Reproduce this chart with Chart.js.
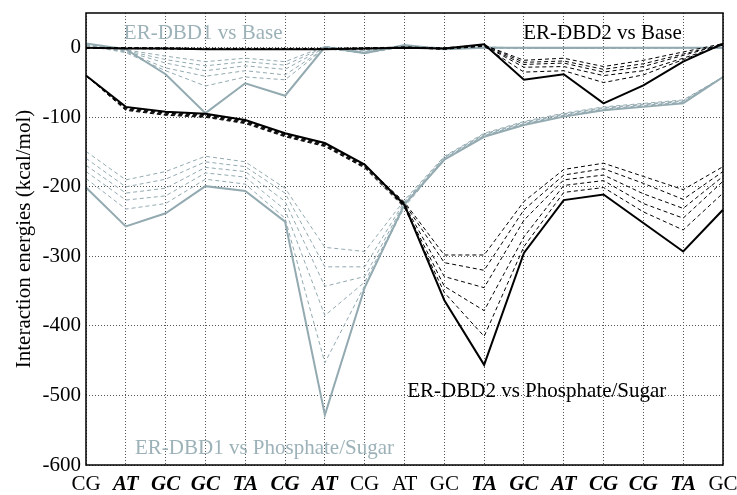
<!DOCTYPE html>
<html>
<head>
<meta charset="utf-8">
<script src="https://cdn.jsdelivr.net/npm/chart.js@4.4.0/dist/chart.umd.min.js"></script>
<style>
  html, body { margin: 0; padding: 0; background: #fff; }
</style>
</head>
<body>
<canvas id="chart" width="737" height="495"></canvas>
<script>
// base pairs along the DNA, bold italic ones are in contact with a DBD
const basePairs = ["CG", "AT", "GC", "GC", "TA", "CG", "AT", "CG", "AT", "GC", "TA", "GC", "AT", "CG", "CG", "TA", "GC"];
const contactPairs = [1, 2, 3, 4, 5, 6, 10, 11, 12, 13, 14, 15];

// ER-DBD1 vs Base (grey)
const dbd1BaseFinal = [6, -2, -38, -94, -51, -69, 1, -8, 4, -2, 0, 0, 0, 0, 0, 0, 0];
const dbd1BaseSteps = [
  [5, -3, -12, -20, -15, -20, 2, -4, 3, 0, 1, 0, 0, 0, 0, 0, 0],
  [5, -4, -17, -26, -20, -25, 1, -5, 3, -1, 1, 0, 0, 0, 0, 0, 0],
  [4, -5, -22, -33, -26, -31, 0, -6, 2, -1, 0, 0, -1, 0, 0, 0, 0],
  [4, -6, -29, -41, -33, -39, -1, -7, 2, -1, 0, -1, -1, -1, 0, 0, 0],
  [3, -7, -33, -55, -42, -46, -1, -8, 1, -2, 0, -1, -1, -1, -1, 0, 0]
];

// ER-DBD2 vs Base (black)
const dbd2BaseFinal = [0, -1, -1, -2, -2, -2, -2, -1, 0, -1, 5, -46, -38, -80, -54, -20, 6];
const dbd2BaseSteps = [
  [0, 0, 0, -1, -1, -1, -1, 0, 1, 0, 4, -18, -15, -27, -18, -6, 6],
  [0, 0, -1, -1, -1, -1, -1, -1, 1, -1, 4, -21, -19, -31, -23, -9, 5],
  [0, -1, -1, -1, -1, -2, -1, -1, 0, -1, 3, -24, -22, -35, -27, -11, 5],
  [-1, -1, -1, -2, -2, -2, -2, -1, 0, -2, 3, -28, -27, -40, -33, -15, 4],
  [-1, -1, -2, -2, -2, -2, -2, -2, 0, -2, 2, -35, -33, -50, -39, -17, 4]
];

// ER-DBD1 vs Phosphate/Sugar (grey)
const dbd1PhosFinal = [-201, -257, -238, -199, -206, -250, -528, -345, -225, -161, -128, -111, -99, -90, -85, -80, -42];
const dbd1PhosSteps = [
  [-149, -190, -178, -156, -164, -202, -287, -293, -219, -156, -123, -106, -94, -85, -80, -75, -42],
  [-159, -200, -189, -164, -171, -209, -315, -315, -221, -157, -124, -107, -95, -86, -81, -76, -42],
  [-169, -209, -202, -172, -178, -221, -343, -329, -223, -158, -125, -108, -96, -87, -82, -77, -42],
  [-178, -219, -213, -180, -186, -233, -385, -337, -226, -159, -126, -109, -97, -88, -83, -78, -42],
  [-188, -232, -224, -189, -196, -245, -453, -342, -229, -160, -127, -110, -98, -89, -84, -79, -42]
];

// ER-DBD2 vs Phosphate/Sugar (black)
const dbd2PhosFinal = [-40, -85, -92, -95, -104, -123, -137, -168, -226, -363, -456, -295, -219, -211, -252, -293, -233];
const dbd2PhosSteps = [
  [-40, -86, -93, -96, -105, -124, -138, -169, -222, -298, -298, -221, -175, -166, -185, -204, -171],
  [-40, -87, -94, -97, -106, -125, -139, -170, -224, -309, -320, -233, -183, -174, -195, -218, -178],
  [-40, -88, -95, -98, -107, -126, -140, -171, -226, -329, -345, -248, -190, -183, -210, -231, -185],
  [-40, -89, -96, -99, -108, -127, -141, -172, -228, -343, -378, -272, -198, -191, -224, -245, -192],
  [-40, -90, -97, -100, -109, -128, -142, -173, -230, -352, -415, -286, -208, -201, -236, -262, -209]
];

const GREY = "#93aab1";
const GREY_TEXT = "#9cb2b8";
const FONT = '"Liberation Serif", "Times New Roman", serif';

// text labels placed in data coordinates (x = base-pair index, y = kcal/mol)
const annotations = [
  { text: "ER-DBD1 vs Base", x: 0.95, y: 21, color: GREY_TEXT },
  { text: "ER-DBD2 vs Base", x: 10.98, y: 21, color: "#000" },
  { text: "ER-DBD2 vs Phosphate/Sugar", x: 8.07, y: -494, color: "#000" },
  { text: "ER-DBD1 vs Phosphate/Sugar", x: 1.23, y: -576, color: GREY_TEXT }
];

function solidLine(data, color) {
  return { data: data, borderColor: color, borderWidth: 2, pointRadius: 0, fill: false, tension: 0 };
}
function dashedLine(data, color) {
  return { data: data, borderColor: color, borderWidth: 1, borderDash: [4, 3], pointRadius: 0, fill: false, tension: 0 };
}

const datasets = [
  solidLine(dbd2PhosFinal, "#000"),
  solidLine(dbd2BaseFinal, "#000"),
  ...dbd2PhosSteps.map((d) => dashedLine(d, "#000")),
  ...dbd2BaseSteps.map((d) => dashedLine(d, "#000")),
  solidLine(dbd1PhosFinal, GREY),
  solidLine(dbd1BaseFinal, GREY),
  ...dbd1PhosSteps.map((d) => dashedLine(d, GREY)),
  ...dbd1BaseSteps.map((d) => dashedLine(d, GREY))
];

const labelPlugin = {
  id: "labelPlugin",
  afterDraw(chart) {
    const { ctx, chartArea, scales } = chart;
    ctx.save();
    // frame around the plot
    ctx.strokeStyle = "#000";
    ctx.lineWidth = 1.5;
    ctx.strokeRect(chartArea.left, chartArea.top, chartArea.right - chartArea.left, chartArea.bottom - chartArea.top);
    ctx.font = "21px " + FONT;
    ctx.textAlign = "left";
    ctx.textBaseline = "middle";
    annotations.forEach((a) => {
      ctx.fillStyle = a.color;
      ctx.fillText(a.text, scales.x.getPixelForValue(a.x), scales.y.getPixelForValue(a.y));
    });
    ctx.restore();
  }
};

new Chart(document.getElementById("chart"), {
  type: "line",
  data: { labels: basePairs, datasets: datasets },
  options: {
    responsive: false,
    animation: false,
    layout: { padding: { top: 13, right: 14, left: 0, bottom: 0 } },
    plugins: { legend: { display: false }, tooltip: { enabled: false } },
    scales: {
      x: {
        offset: false,
        grid: { offset: false, color: "#555", lineWidth: 1, drawTicks: false },
        border: { display: false, dash: [1, 2] },
        ticks: {
          color: "#000",
          padding: 7,
          maxRotation: 0,
          autoSkip: false,
          font: (c) => {
            const em = contactPairs.includes(c.index);
            return { family: FONT, size: 21, weight: em ? "bold" : "normal", style: em ? "italic" : "normal" };
          }
        },
        afterFit: (s) => {
          s.height = 30;
          s.paddingLeft = 0;
          s.paddingRight = 0;
        }
      },
      y: {
        min: -600,
        max: 50,
        grid: {
          color: (c) => (c.tick && c.tick.value > 0 ? "rgba(0,0,0,0)" : "#555"),
          lineWidth: 1,
          drawTicks: false
        },
        border: { display: false, dash: [1, 2] },
        ticks: {
          stepSize: 100,
          color: "#000",
          padding: 5,
          font: { family: FONT, size: 21 },
          callback: (v) => (v > 0 ? "" : v)
        },
        title: {
          display: true,
          text: "Interaction energies (kcal/mol)",
          color: "#000",
          font: { family: FONT, size: 21 },
          padding: { top: 12, bottom: 0 }
        },
        afterFit: (s) => {
          s.width = 86;
          s.paddingTop = 0;
          s.paddingBottom = 0;
        }
      }
    }
  },
  plugins: [labelPlugin]
});
</script>
</body>
</html>
